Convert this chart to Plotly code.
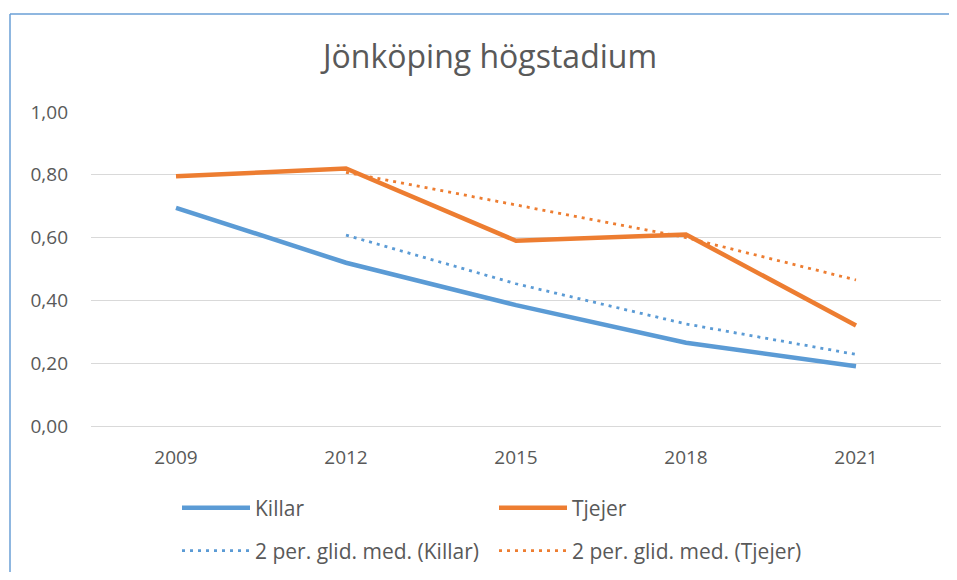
import plotly.graph_objects as go

years = ["2009", "2012", "2015", "2018", "2021"]
killar = [0.695, 0.52, 0.385, 0.265, 0.19]
tjejer = [0.795, 0.82, 0.59, 0.61, 0.32]
# 2-period moving averages as plotted (no value for the first year)
killar_ma = [None, 0.608, 0.453, 0.325, 0.228]
tjejer_ma = [None, 0.808, 0.705, 0.600, 0.465]
y_ticks = [0, 0.2, 0.4, 0.6, 0.8, 1.0]

BLUE = "#5b9bd5"
ORANGE = "#ed7d31"
TEXT = "#595959"
FONT = "Open Sans, Liberation Sans, sans-serif"

# page is drawn with an 8px body margin, so targets below are page pixels
OFF = 8
W, H = 957 - 2 * OFF, 580 - 2 * OFF
L, T = 91 - OFF, 112 - OFF
R, B = W - (941 - OFF), H - (426 - OFF)
pw, ph = W - L - R, H - T - B


def px_x(p):
    return (p - OFF - L) / pw


def px_y(p):
    return (H - B - (p - OFF)) / ph


fig = go.Figure()
fig.add_trace(go.Scatter(x=years, y=killar, name="Killar", mode="lines",
                         line=dict(color=BLUE, width=4.5), legend="legend"))
fig.add_trace(go.Scatter(x=years, y=tjejer, name="Tjejer", mode="lines",
                         line=dict(color=ORANGE, width=4.5), legend="legend"))
fig.add_trace(go.Scatter(x=years, y=killar_ma, name="2 per. glid. med. (Killar)",
                         mode="lines", line=dict(color=BLUE, width=2.8, dash="3px,5px"),
                         legend="legend2"))
fig.add_trace(go.Scatter(x=years, y=tjejer_ma, name="2 per. glid. med. (Tjejer)",
                         mode="lines", line=dict(color=ORANGE, width=2.8, dash="3px,5px"),
                         legend="legend2"))

legend_common = dict(
    orientation="h", xanchor="left", yanchor="middle",
    entrywidth=234, entrywidthmode="pixels", itemwidth=68,
    font=dict(family=FONT, size=21, color=TEXT),
    bgcolor="rgba(0,0,0,0)",
)

fig.update_layout(
    width=W, height=H,
    margin=dict(l=L, r=R, t=T, b=B, autoexpand=False),
    paper_bgcolor="white", plot_bgcolor="white",
    separators=", ",
    title=dict(text="Jönköping högstadium", x=(490 - OFF) / W, xanchor="center",
               y=1 - (57 - OFF) / H, yanchor="middle",
               font=dict(family=FONT, size=32, color=TEXT)),
    xaxis=dict(type="category", range=[-0.5, 4.5], showgrid=False,
               showline=False, zeroline=False, ticks="",
               ticklabelstandoff=18,
               tickfont=dict(family=FONT, size=19, color=TEXT)),
    yaxis=dict(range=[0, 1.0], tickvals=y_ticks, tickformat=".2f",
               showgrid=True, gridcolor="#d9d9d9", gridwidth=1.3,
               zeroline=True, zerolinecolor="#d9d9d9", zerolinewidth=1.3,
               showline=False, ticks="", ticklabelstandoff=22,
               tickfont=dict(family=FONT, size=19, color=TEXT)),
    legend=dict(x=px_x(177), y=px_y(508), **legend_common),
    legend2=dict(x=px_x(177), y=px_y(551), **legend_common),
    shapes=[
        dict(type="line", xref="paper", yref="paper",
             x0=px_x(10), x1=px_x(W + 40), y0=px_y(14), y1=px_y(14),
             line=dict(color="#6a9fd6", width=1.5)),
        dict(type="line", xref="paper", yref="paper",
             x0=px_x(10), x1=px_x(10), y0=px_y(14), y1=px_y(H + 40),
             line=dict(color="#6a9fd6", width=1.5)),
    ],
)

fig.write_html("out.html")
